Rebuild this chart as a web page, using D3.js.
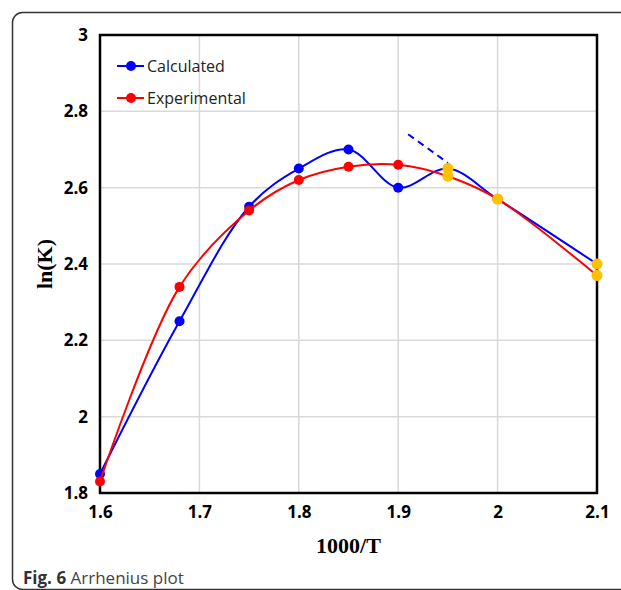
<!DOCTYPE html>
<html>
<head>
<meta charset="utf-8">
<script src="https://cdn.jsdelivr.net/npm/d3@7"></script>
<style>
  body { margin: 0; background: #fff; }
</style>
</head>
<body>
<svg id="chart" width="621" height="590"></svg>
<script>
const xValues = [1.6, 1.68, 1.75, 1.8, 1.85, 1.9, 1.95, 2.0, 2.1];
const calculated = [1.85, 2.25, 2.55, 2.65, 2.70, 2.60, 2.65, 2.57, 2.40];
const experimental = [1.83, 2.34, 2.54, 2.62, 2.655, 2.66, 2.63, 2.57, 2.37];
// highlighted (linear region) points
const linearX = [1.95, 1.95, 2.0, 2.1, 2.1];
const linearY = [2.65, 2.63, 2.57, 2.40, 2.37];
// dashed extension of the linear fit
const trendX = [1.91, 1.95];
const trendY = [2.74, 2.665];
const xTicks = [1.6, 1.7, 1.8, 1.9, 2, 2.1];
const yTicks = [1.8, 2, 2.2, 2.4, 2.6, 2.8, 3];

const svg = d3.select('#chart');

// outer frame
svg.append('rect')
  .attr('x', 12.5).attr('y', 12.5)
  .attr('width', 640).attr('height', 577)
  .attr('rx', 10)
  .attr('fill', 'none')
  .attr('stroke', '#333')
  .attr('stroke-width', 1.5);

const x = d3.scaleLinear().domain([1.6, 2.1]).range([100, 597]);
const y = d3.scaleLinear().domain([1.8, 3]).range([493, 35]);

// grid
svg.append('g')
  .selectAll('line')
  .data(xTicks)
  .enter()
  .append('line')
  .attr('x1', d => x(d)).attr('x2', d => x(d))
  .attr('y1', y(3)).attr('y2', y(1.8))
  .attr('stroke', '#d9d9d9')
  .attr('stroke-width', 1.5);

svg.append('g')
  .selectAll('line')
  .data(yTicks)
  .enter()
  .append('line')
  .attr('x1', x(1.6)).attr('x2', x(2.1))
  .attr('y1', d => y(d)).attr('y2', d => y(d))
  .attr('stroke', '#d9d9d9')
  .attr('stroke-width', 1.5);

// axes (labels only)
const xAxis = svg.append('g')
  .attr('transform', `translate(0, ${y(1.8)})`)
  .call(d3.axisBottom(x).tickValues(xTicks).tickSize(0).tickPadding(13).tickFormat(d3.format('')));
const yAxis = svg.append('g')
  .attr('transform', `translate(${x(1.6)}, 0)`)
  .call(d3.axisLeft(y).tickValues(yTicks).tickSize(0).tickPadding(12).tickFormat(d3.format('')));
[xAxis, yAxis].forEach(a => {
  a.select('.domain').remove();
  a.selectAll('text')
    .attr('font-family', '"Open Sans", sans-serif')
    .attr('font-weight', 'bold')
    .attr('font-size', 17)
    .attr('fill', '#000');
});

// plot border
svg.append('rect')
  .attr('x', x(1.6)).attr('y', y(3))
  .attr('width', x(2.1) - x(1.6))
  .attr('height', y(1.8) - y(3))
  .attr('fill', 'none')
  .attr('stroke', '#000')
  .attr('stroke-width', 2.5);

const line = d3.line()
  .curve(d3.curveCatmullRom.alpha(0.5))
  .x(d => x(d[0]))
  .y(d => y(d[1]));

const series = [
  { name: 'Calculated', color: '#0000ff', values: calculated },
  { name: 'Experimental', color: '#ff0000', values: experimental }
];

series.forEach(s => {
  const pts = xValues.map((v, i) => [v, s.values[i]]);
  svg.append('path')
    .attr('d', line(pts))
    .attr('fill', 'none')
    .attr('stroke', s.color)
    .attr('stroke-width', 2);
  svg.append('g')
    .selectAll('circle')
    .data(pts)
    .enter()
    .append('circle')
    .attr('cx', d => x(d[0]))
    .attr('cy', d => y(d[1]))
    .attr('r', 5)
    .attr('fill', s.color);
});

// dashed trend extension
svg.append('path')
  .attr('d', d3.line().x(d => x(d[0])).y(d => y(d[1]))(trendX.map((v, i) => [v, trendY[i]])))
  .attr('fill', 'none')
  .attr('stroke', '#0000ff')
  .attr('stroke-width', 2)
  .attr('stroke-dasharray', '7,5');

// linear region markers
svg.append('g')
  .selectAll('circle')
  .data(linearX.map((v, i) => [v, linearY[i]]))
  .enter()
  .append('circle')
  .attr('cx', d => x(d[0]))
  .attr('cy', d => y(d[1]))
  .attr('r', 5.5)
  .attr('fill', '#ffc000');

// legend
const legend = svg.append('g');
series.forEach((s, i) => {
  const ly = 66 + i * 32;
  legend.append('line')
    .attr('x1', 117).attr('x2', 144)
    .attr('y1', ly).attr('y2', ly)
    .attr('stroke', s.color)
    .attr('stroke-width', 2);
  legend.append('circle')
    .attr('cx', 131).attr('cy', ly).attr('r', 5)
    .attr('fill', s.color);
  legend.append('text')
    .attr('x', 147).attr('y', ly + 6)
    .attr('font-family', '"Open Sans", sans-serif')
    .attr('font-size', 16)
    .attr('fill', '#222')
    .text(s.name);
});

// axis titles
svg.append('text')
  .attr('x', (x(1.6) + x(2.1)) / 2).attr('y', 553)
  .attr('text-anchor', 'middle')
  .attr('font-family', '"Liberation Serif", serif')
  .attr('font-weight', 'bold')
  .attr('font-size', 22)
  .text('1000/T');

svg.append('text')
  .attr('transform', `translate(52, ${(y(1.8) + y(3)) / 2}) rotate(-90)`)
  .attr('text-anchor', 'middle')
  .attr('font-family', '"Liberation Serif", serif')
  .attr('font-weight', 'bold')
  .attr('font-size', 22)
  .text('ln(K)');

// caption
const cap = svg.append('text')
  .attr('x', 23).attr('y', 584)
  .attr('font-family', '"Open Sans", sans-serif')
  .attr('font-size', 17)
  .attr('fill', '#333');
cap.append('tspan').attr('font-weight', 'bold').text('Fig. 6');
cap.append('tspan').attr('fill', '#444').text(' Arrhenius plot');
</script>
</body>
</html>
